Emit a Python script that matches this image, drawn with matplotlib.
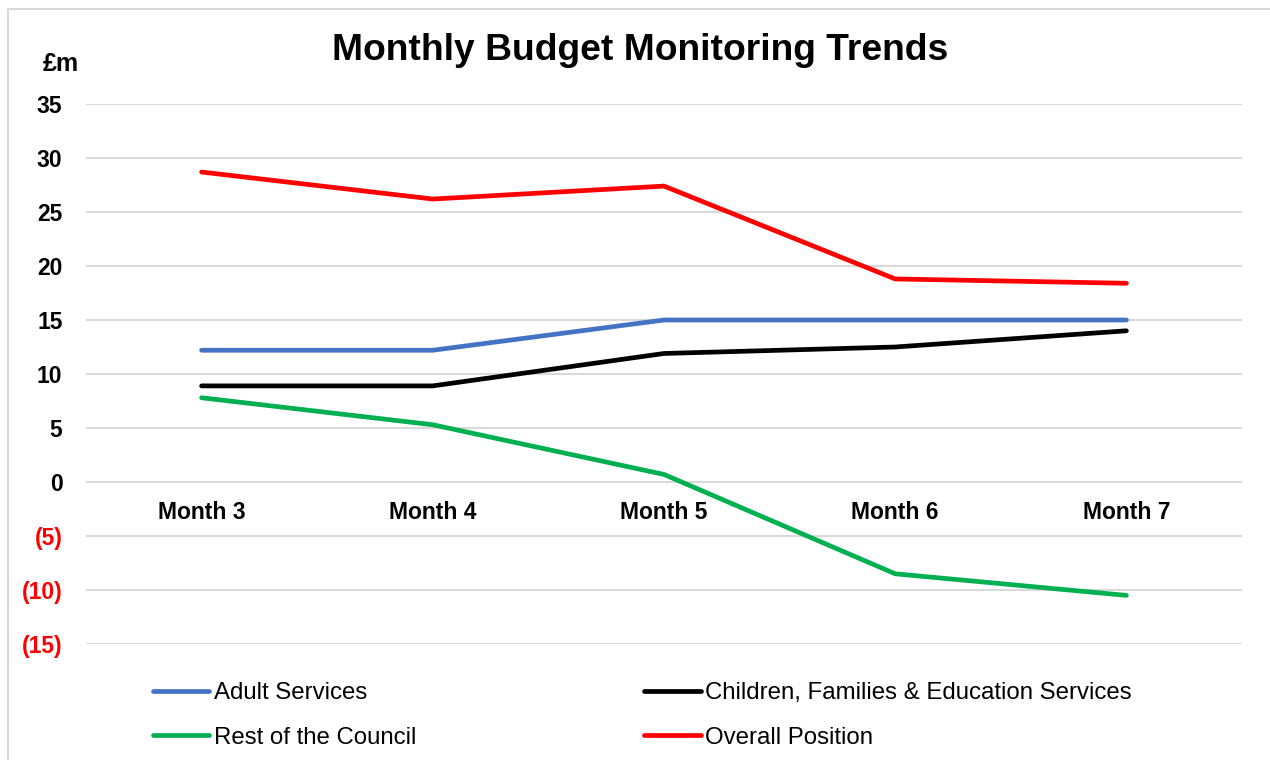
import matplotlib
matplotlib.use("Agg")
import matplotlib.pyplot as plt
from matplotlib.lines import Line2D

plt.rcParams['font.family'] = ['Liberation Sans', 'DejaVu Sans']

meses = ['Month 3', 'Month 4', 'Month 5', 'Month 6', 'Month 7']
adult = [12.2, 12.2, 15.0, 15.0, 15.0]
children = [8.9, 8.9, 11.9, 12.5, 14.0]
resto = [7.8, 5.3, 0.7, -8.5, -10.5]
overall = [28.7, 26.2, 27.4, 18.8, 18.4]
y_ticks = [35, 30, 25, 20, 15, 10, 5, 0, -5, -10, -15]

fig = plt.figure(figsize=(12.7, 7.6), dpi=100)
ax = fig.add_axes([86 / 1270, 1 - 644 / 760, (1242 - 86) / 1270, (644 - 104) / 760])

x = list(range(len(meses)))
lw = 3.4
l1, = ax.plot(x, adult, color='#4472C4', lw=lw, solid_capstyle='round', label='Adult Services')
l2, = ax.plot(x, children, color='black', lw=lw, solid_capstyle='round',
              label='Children, Families & Education Services')
l3, = ax.plot(x, resto, color='#00B050', lw=lw, solid_capstyle='round', label='Rest of the Council')
l4, = ax.plot(x, overall, color='#FF0000', lw=lw, solid_capstyle='round', label='Overall Position')

# eje x pasando por el cero, las etiquetas de mes quedan debajo
ax.spines['bottom'].set_position(('data', 0))
for s in ax.spines.values():
    s.set_visible(False)

ax.set_xlim(-0.5, len(meses) - 0.5)
ax.set_ylim(-15, 35)
ax.set_yticks(y_ticks)
ax.set_yticklabels([str(v) if v >= 0 else '(%d)' % -v for v in y_ticks],
                   fontsize=16.5, fontweight='bold')
for lab, v in zip(ax.get_yticklabels(), y_ticks):
    if v < 0:
        lab.set_color('#FF0000')

ax.set_xticks(x)
ax.set_xticklabels(meses, fontsize=16.5, fontweight='bold')
ax.tick_params(axis='x', length=0, pad=14)
ax.tick_params(axis='y', length=0, pad=17)
ax.grid(axis='y', color='#d9d9d9', lw=1.5)
ax.set_axisbelow(True)

fig.text(640 / 1270, 1 - 50 / 760, 'Monthly Budget Monitoring Trends', ha='center', va='center',
         fontsize=26.8, fontweight='bold')
fig.text(43 / 1270, 1 - 64 / 760, '£m', ha='left', va='center', fontsize=18, fontweight='bold')

fig.legend([l1, l3, l2, l4], [l1.get_label(), l3.get_label(), l2.get_label(), l4.get_label()],
           ncol=2, loc='upper left', bbox_to_anchor=(153 / 1270, 1 - 682 / 760),
           frameon=False, fontsize=17.3, handlelength=2.35, handletextpad=0.17,
           columnspacing=9.5, labelspacing=0.95, borderaxespad=0, borderpad=0)

# marco gris del área del gráfico
fig.add_artist(Line2D([8 / 1270, 1], [1 - 9 / 760, 1 - 9 / 760], color='#d9d9d9', lw=1.5))
fig.add_artist(Line2D([8 / 1270, 8 / 1270], [0, 1 - 9 / 760], color='#d9d9d9', lw=1.5))

fig.savefig('out.png', dpi=100)
